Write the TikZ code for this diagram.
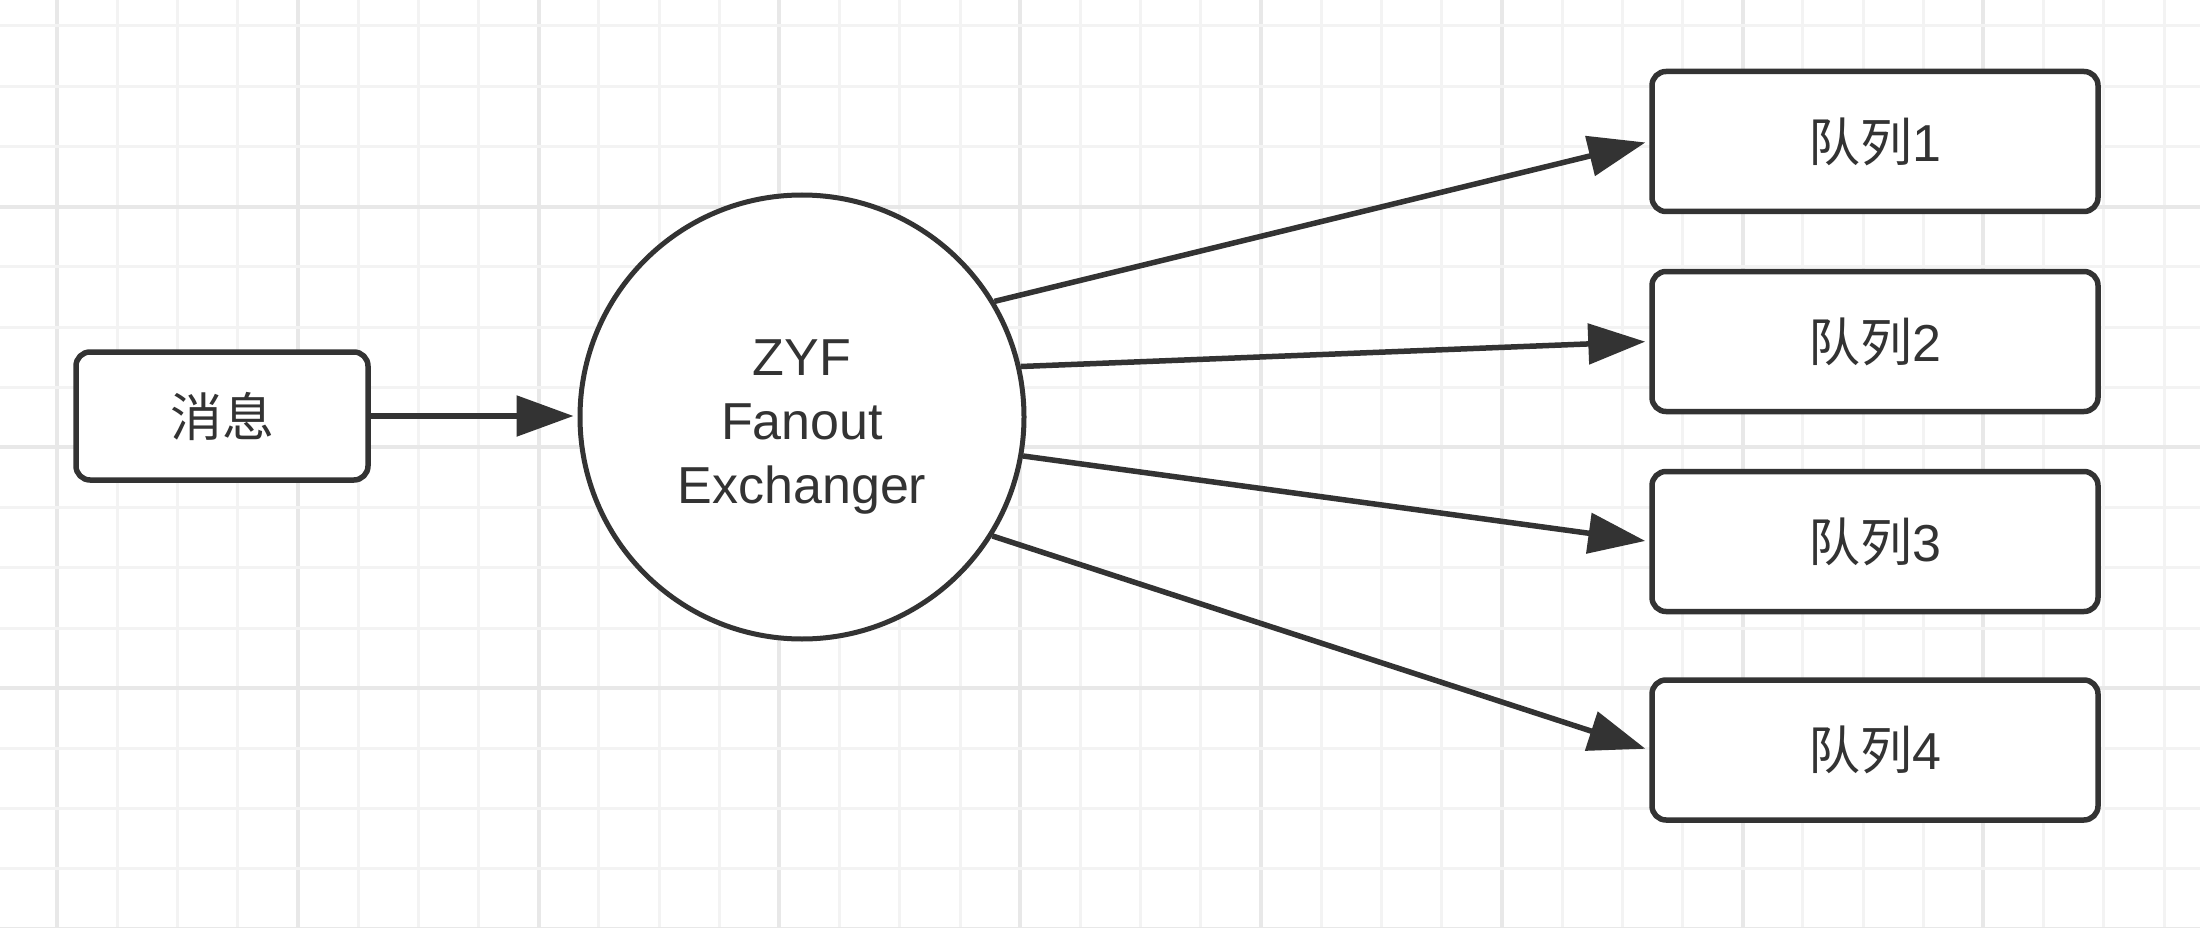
\documentclass[tikz,border=0pt]{standalone}
\usepackage{fontspec}
\setmainfont{Liberation Sans}
\newfontfamily\cjk{Noto Sans CJK SC}
\usetikzlibrary{arrows.meta}
\definecolor{ink}{HTML}{333333}
\definecolor{gridminor}{HTML}{F3F3F3}
\definecolor{gridmajor}{HTML}{E8E8E8}
\begin{document}
\begin{tikzpicture}[x=1pt,y=-1pt,
  box/.style={draw=ink, line width=5.5pt, rounded corners=14pt, fill=white,
    text=ink, inner sep=0pt, font=\fontsize{52}{64}\selectfont},
  qbox/.style={box, minimum width=446pt, minimum height=140pt},
  hub/.style={draw=ink, line width=5pt, circle, fill=white, text=ink,
    minimum size=444pt, inner sep=0pt, align=center,
    font=\fontsize{52}{64}\selectfont},
  flow/.style={draw=ink, line width=5.5pt, -{Triangle[length=57pt,width=40pt]}, shorten >=4pt}
]
\useasboundingbox (0,0) rectangle (2200,928);
\fill[white] (0,0) rectangle (2200,928);
% grid
\foreach \k in {0,...,35} {
  \pgfmathsetmacro{\gx}{57+60.2*\k}
  \pgfmathtruncatemacro{\m}{mod(\k,4)}
  \ifnum\m=0
    \draw[gridmajor, line width=4pt] (\gx,0) -- (\gx,928);
  \else
    \draw[gridminor, line width=3pt] (\gx,0) -- (\gx,928);
  \fi
}
\foreach \k in {0,...,15} {
  \pgfmathsetmacro{\gy}{26+60.2*\k}
  \pgfmathtruncatemacro{\m}{mod(\k+1,4)}
  \ifnum\m=0
    \draw[gridmajor, line width=4pt] (0,\gy) -- (2200,\gy);
  \else
    \draw[gridminor, line width=3pt] (0,\gy) -- (2200,\gy);
  \fi
}
% nodes
\node[box, minimum width=292pt, minimum height=128pt] (msg) at (222,416) {\cjk 消息};
\node[hub] (ex) at (802,417) {\rule{0pt}{55pt}ZYF\\Fanout\\Exchanger};
\node[qbox] (q1) at (1875,141.5) {{\cjk 队列}1};
\node[qbox] (q2) at (1875,341.5) {{\cjk 队列}2};
\node[qbox] (q3) at (1875,541.5) {{\cjk 队列}3};
\node[qbox] (q4) at (1875,750) {{\cjk 队列}4};
% connectors
\draw[flow] (msg.east) -- (msg.east -| ex.west);
\draw[flow] (ex.31) -- (q1.west);
\draw[flow] (ex.13) -- (q2.west);
\draw[flow] (ex.-10) -- (q3.west);
\draw[flow] (ex.-32) -- (q4.west);
\end{tikzpicture}
\end{document}
